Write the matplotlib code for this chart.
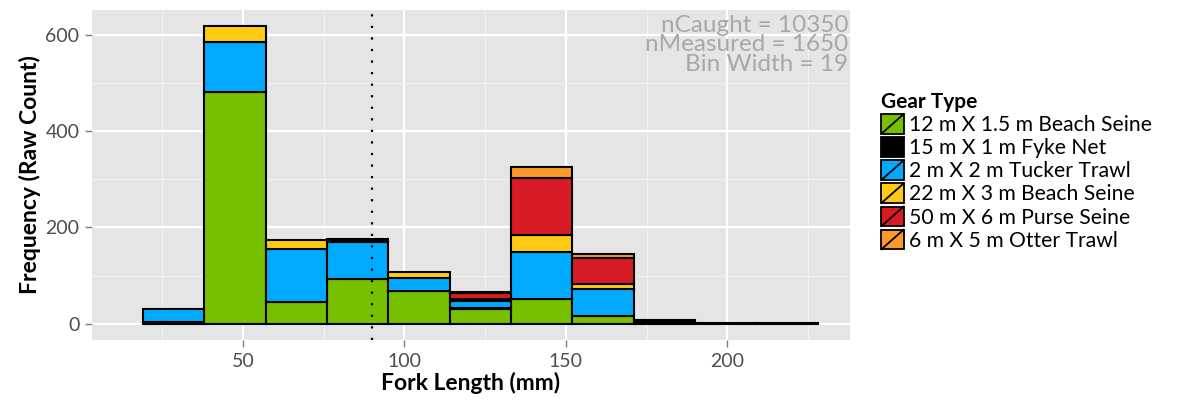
import numpy as np
import matplotlib
matplotlib.use('Agg')
import matplotlib.pyplot as plt
from matplotlib.patches import Rectangle, Patch
from matplotlib.lines import Line2D
from matplotlib.legend_handler import HandlerBase

plt.rcParams['font.family'] = ['Lato', 'DejaVu Sans']

# --- histogram bins (fork length, mm) ---
bin_width = 19
bin_left = [19, 38, 57, 76, 95, 114, 133, 152, 171, 190, 209]

# counts per gear type in each bin (stacked bottom -> top)
gear_names = ['12 m X 1.5 m Beach Seine', '15 m X 1 m Fyke Net', '2 m X 2 m Tucker Trawl',
              '22 m X 3 m Beach Seine', '50 m X 6 m Purse Seine', '6 m X 5 m Otter Trawl']
gear_colors = ['#76C000', '#000000', '#00AAFF', '#FFCB12', '#D81B24', '#FB9A2B']
beach_12 = [0, 481, 45, 92, 67, 30, 51, 16, 0, 0, 0]
fyke_15 = [4, 0, 0, 0, 0, 2, 0, 0, 7, 2, 1]
tucker_2 = [26, 104, 111, 77, 27, 16, 98, 55, 0, 0, 0]
beach_22 = [0, 33, 17, 3, 13, 3, 35, 11, 0, 0, 0]
purse_50 = [0, 0, 0, 0, 0, 12, 118, 55, 0, 0, 0]
otter_6 = [0, 0, 0, 4, 0, 3, 24, 7, 0, 0, 0]
gear_counts = [beach_12, fyke_15, tucker_2, beach_22, purse_50, otter_6]

n_caught = 10350
n_measured = 1650
mean_line = 90

fig = plt.figure(figsize=(11.88, 4.07), dpi=100)
ax = fig.add_axes([0.0774, 0.1646, 0.7155 - 0.0774, 0.9754 - 0.1646])
ax.set_facecolor('#E5E5E5')

bottom = np.zeros(len(bin_left))
for counts, col in zip(gear_counts, gear_colors):
    counts = np.array(counts, dtype=float)
    keep = counts > 0
    ax.bar(np.array(bin_left)[keep], counts[keep], width=bin_width, align='edge',
           bottom=bottom[keep], color=col, edgecolor='black', linewidth=1.5, zorder=3)
    bottom += counts

ax.axvline(mean_line, color='black', linestyle=(0, (1, 4.2)), linewidth=1.6, zorder=4)

ax.set_xlim(3.2, 238)
ax.set_ylim(-34, 652)
ax.set_xticks([50, 100, 150, 200])
ax.set_yticks([0, 200, 400, 600])
ax.set_xticks([25, 75, 125, 175, 225], minor=True)
ax.set_yticks([100, 300, 500], minor=True)
ax.grid(which='major', color='white', linewidth=1.6, zorder=0)
ax.grid(which='minor', color='#F2F2F2', linewidth=0.8, zorder=0)
ax.set_axisbelow(True)
for s in ax.spines.values():
    s.set_visible(False)
ax.tick_params(which='major', length=5, width=1, color='#7F7F7F', labelsize=14,
               labelcolor='#4D4D4D', pad=4)
ax.tick_params(which='minor', length=0)

ax.set_xlabel('Fork Length (mm)', fontsize=16.5, fontweight='bold', labelpad=2)
ax.set_ylabel('Frequency (Raw Count)', fontsize=16.5, fontweight='bold', labelpad=3)

ax.text(0.998, 0.985, f'nCaught = {n_caught}\nnMeasured = {n_measured}\nBin Width = {bin_width}',
        transform=ax.transAxes, ha='right', va='top', fontsize=17.5, color='#A8A8A8',
        linespacing=0.9, zorder=5)


class SlashHandler(HandlerBase):
    def create_artists(self, legend, orig_handle, xdescent, ydescent, width, height,
                       fontsize, trans):
        r = Rectangle((-xdescent, -ydescent), width, height,
                      facecolor=orig_handle.get_facecolor(), edgecolor='black',
                      linewidth=1.3, transform=trans)
        ln = Line2D([-xdescent, -xdescent + width], [-ydescent, -ydescent + height],
                    color='black', linewidth=1.3, transform=trans)
        return [r, ln]


handles = [Patch(facecolor=c) for c in gear_colors]
leg = fig.legend(handles, gear_names, handler_map={Patch: SlashHandler()},
                 loc='upper left', bbox_to_anchor=(0.742, 0.774), frameon=False,
                 fontsize=15.2, title='Gear Type', title_fontproperties={'weight': 'bold', 'size': 15},
                 handlelength=1.05, handleheight=1.05, labelspacing=0.1,
                 handletextpad=0.25, borderaxespad=0, borderpad=0)
leg._legend_box.align = 'left'

fig.savefig('out.png', dpi=100)
